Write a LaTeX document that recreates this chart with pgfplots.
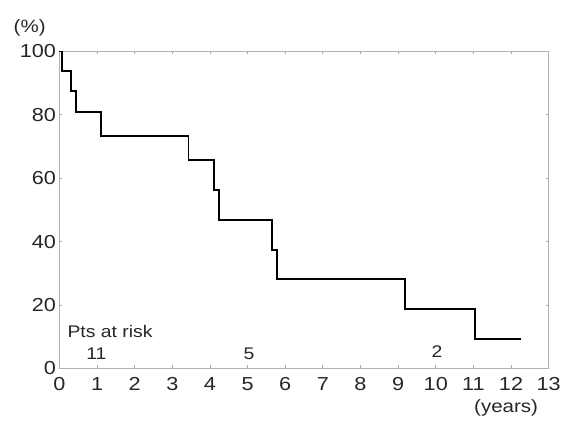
\documentclass[border=0pt]{standalone}
\usepackage{fontspec}
\setmainfont{Liberation Sans}[FakeStretch=1.15]
\usepackage{pgfplots}
\pgfplotsset{compat=1.18}

\begin{document}
\begin{tikzpicture}
\begin{axis}[
  name=ax,
  scale only axis,
  width=494pt, height=320pt,
  xmin=0, xmax=13, ymin=0, ymax=100,
  xtick={0,1,...,13}, ytick={0,20,...,100},
  tick align=inside, major tick length=3pt,
  tick style={gray!70, line width=0.8pt},
  axis line style={gray!60, line width=1.2pt},
  ticklabel style={font=\fontsize{19}{21}\selectfont, text=black!85},
  /pgf/number format/assume math mode=true,
  xticklabel style={yshift=-6pt},
  clip=false,
]
\addplot[const plot, black, line width=2pt] coordinates {
  (0,100) (0.08,93.8) (0.32,87.5) (0.45,80.8) (1.11,73.4)
  (3.43,65.7) (4.12,56.3) (4.25,46.9) (5.65,37.5) (5.78,28.1)
  (9.18,18.7) (11.03,9.4) (12.27,9.4)
};
\node[font=\fontsize{18}{20}\selectfont, text=black!85] at (axis cs:-0.79,107.5) {(\%)};
\node[font=\fontsize{18}{20}\selectfont, text=black!85] at (axis cs:11.87,-12.6) {(years)};
\node[font=\fontsize{17}{19}\selectfont, text=black!85, anchor=west, inner sep=0pt] at (axis cs:0.21,11.6) {Pts at risk};
\node[font=\fontsize{17}{19}\selectfont, text=black!85] at (axis cs:0.98,4.7) {11};
\node[font=\fontsize{17}{19}\selectfont, text=black!85] at (axis cs:5.04,4.7) {5};
\node[font=\fontsize{17}{19}\selectfont, text=black!85] at (axis cs:10.03,5.3) {2};
\end{axis}
\path ([shift={(-60pt,-55pt)}]ax.south west) rectangle ([shift={(10pt,52pt)}]ax.north east);
\end{tikzpicture}
\end{document}
